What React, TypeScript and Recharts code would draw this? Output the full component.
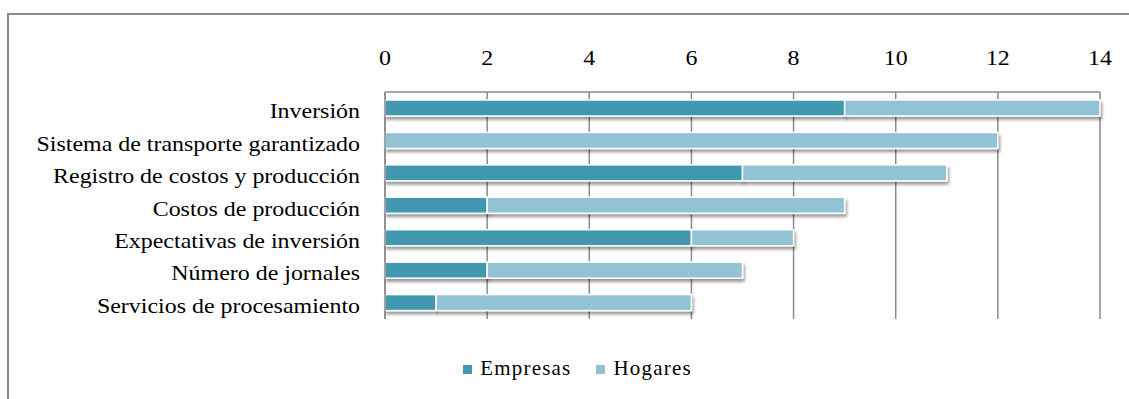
import { BarChart, Bar, XAxis, YAxis, CartesianGrid, Legend } from 'recharts';

const categories = [
  'Inversión',
  'Sistema de transporte garantizado',
  'Registro de costos y producción',
  'Costos de producción',
  'Expectativas de inversión',
  'Número de jornales',
  'Servicios de procesamiento',
];
const empresas = [9, 0, 7, 2, 6, 2, 1];
const hogares = [5, 12, 4, 7, 2, 5, 5];
const xTicks = [0, 2, 4, 6, 8, 10, 12, 14];

const series = [
  { key: 'empresas', name: 'Empresas', color: '#4398b0' },
  { key: 'hogares', name: 'Hogares', color: '#92c3d4' },
];

const data = categories.map((c, i) => ({ cat: c, empresas: empresas[i], hogares: hogares[i] }));

const FONT = '"Liberation Serif", "Times New Roman", serif';
// the reference text is a bit wider than Liberation Serif, stretch it horizontally
const SX = 1.14;

function ShadowBar(props: any) {
  const { x, y, width, height, fill } = props;
  if (!width || width <= 0) return null;
  return (
    <rect x={x} y={y} width={width} height={height} fill={fill} stroke="#ffffff" strokeWidth={1.5} filter="url(#barShadow)" />
  );
}

function TopTick(props: any) {
  const { x, payload } = props;
  return (
    <text transform={`translate(${x},65) scale(${SX},1)`} textAnchor="middle" fontFamily={FONT} fontSize={21} fill="#000">
      {payload.value}
    </text>
  );
}

function CatTick(props: any) {
  const { y, payload } = props;
  return (
    <text transform={`translate(360,${y + 10}) scale(${SX},1)`} textAnchor="end" fontFamily={FONT} fontSize={21} fill="#000">
      {payload.value}
    </text>
  );
}

function LegendBox() {
  return (
    <div style={{ display: 'flex', justifyContent: 'center', gap: 25, fontFamily: FONT, fontSize: 21, letterSpacing: 1.2, color: '#000', paddingLeft: 26 }}>
      {series.map(s => (
        <div key={s.key} style={{ display: 'flex', alignItems: 'center' }}>
          <span style={{ display: 'inline-block', width: 9, height: 9, background: s.color, marginRight: 8, marginTop: 2 }} />
          {s.name}
        </div>
      ))}
    </div>
  );
}

export default function App() {
  return (
    <div style={{ position: 'absolute', left: 0, top: 0, width: 1129, height: 399, overflow: 'hidden', background: '#fff' }}>
      <div style={{ position: 'absolute', left: 7, top: 13, width: 1200, height: 500, border: '2px solid #8a8a8a' }} />
      <div style={{ position: 'absolute', left: 0, top: 0 }}>
        <BarChart
          width={1129}
          height={399}
          data={data}
          layout="vertical"
          margin={{ top: 52, right: 29, bottom: 55, left: 0 }}
          barCategoryGap="50%"
        >
          <defs>
            <filter id="barShadow" x="-5%" y="-50%" width="110%" height="200%">
              <feDropShadow dx="1.5" dy="3" stdDeviation="1.6" floodColor="#000" floodOpacity="0.4" />
            </filter>
          </defs>
          <CartesianGrid horizontal={false} stroke="#8a8a8a" strokeWidth={1.5} />
          <XAxis
            type="number"
            orientation="top"
            domain={[0, 14]}
            ticks={xTicks}
            height={40}
            tickSize={0}
            axisLine={{ stroke: '#8a8a8a', strokeWidth: 1.5 }}
            tickLine={false}
            tick={<TopTick />}
          />
          <YAxis
            type="category"
            dataKey="cat"
            width={385}
            tickSize={0}
            axisLine={{ stroke: '#8a8a8a', strokeWidth: 1.5 }}
            tickLine={false}
            interval={0}
            tick={<CatTick />}
          />
          <Legend verticalAlign="bottom" wrapperStyle={{ left: 0, width: 1129, top: 356, bottom: 'auto' }} content={<LegendBox />} />
          {series.map(s => (
            <Bar key={s.key} dataKey={s.key} name={s.name} stackId="a" fill={s.color} barSize={16} shape={<ShadowBar />} isAnimationActive={false} />
          ))}
        </BarChart>
      </div>
    </div>
  );
}
